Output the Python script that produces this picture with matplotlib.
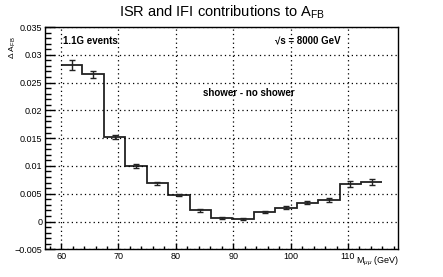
import numpy as np
import matplotlib
matplotlib.use("Agg")
import matplotlib.pyplot as plt
from matplotlib.ticker import MultipleLocator, FixedLocator

plt.rcParams['font.family'] = ['Liberation Sans', 'DejaVu Sans']
plt.rcParams['mathtext.fontset'] = 'custom'
plt.rcParams['mathtext.rm'] = 'Liberation Sans'
plt.rcParams['mathtext.it'] = 'Liberation Sans:italic'

# histogram: 15 bins from 60 to 116 GeV
bin_lo, bin_hi, n_bins = 60.0, 116.0, 15
delta_afb = [0.0282, 0.0265, 0.01525, 0.0100, 0.0069, 0.0048, 0.0020, 0.0006,
             0.0005, 0.0017, 0.0025, 0.0034, 0.0039, 0.0068, 0.0071]
delta_err = [0.00085, 0.0006, 0.00035, 0.0003, 0.00025, 0.0002, 0.0002, 0.0002,
             0.0002, 0.0002, 0.00025, 0.0003, 0.00035, 0.0005, 0.0005]
ytick_vals = [-0.005, 0, 0.005, 0.01, 0.015, 0.02, 0.025, 0.03, 0.035]
ytick_text = ['\u22120.005', '0', '0.005', '0.01', '0.015', '0.02', '0.025', '0.03', '0.035']

edges = np.linspace(bin_lo, bin_hi, n_bins + 1)
centers = 0.5 * (edges[:-1] + edges[1:])

fig = plt.figure(figsize=(4.43, 2.77), dpi=100)
ax = fig.add_axes([0.1016, 0.1, 0.7979, 0.8025])

# step line only, no drop to baseline at the ends
ax.stairs(delta_afb, edges, baseline=None, color='#222222', linewidth=1.3)
ax.errorbar(centers, delta_afb, yerr=delta_err, fmt='none', ecolor='#222222',
            elinewidth=1.0, capsize=2.5, capthick=1.0)

ax.set_xlim(57.2, 118.8)
ax.set_ylim(-0.005, 0.035)

ax.xaxis.set_major_locator(MultipleLocator(10))
ax.xaxis.set_minor_locator(MultipleLocator(2))
ax.yaxis.set_major_locator(FixedLocator(ytick_vals))
ax.yaxis.set_minor_locator(MultipleLocator(0.001))
ax.set_yticklabels(ytick_text)

ax.tick_params(which='both', direction='in', top=False, right=False,
               labelsize=6.5, width=1.0, colors='black')
ax.tick_params(axis='y', which='major', length=7.5, pad=2)
ax.tick_params(axis='y', which='minor', length=4)
ax.tick_params(axis='x', which='major', length=4.5, pad=2)
ax.tick_params(axis='x', which='minor', length=2.3)

ax.grid(True, which='major', color='black', linestyle=(0, (1, 2.5)), linewidth=0.9)
for sp in ax.spines.values():
    sp.set_linewidth(1.0)

fig.text(0.5, 0.955, r'ISR and IFI contributions to A$_{\rm FB}$', ha='center',
         va='center', fontsize=10.5)

ax.text(60.35, 0.0325, '1.1G events', fontsize=7, fontweight='bold', va='center')
ax.text(97.3, 0.0325, '\u221as = 8000 GeV', fontsize=7, fontweight='bold', va='center')
ax.text(84.8, 0.0232, 'shower - no shower', fontsize=7, fontweight='bold', va='center')

fig.text(0.03, 0.87, r'$\Delta$ A$_{\rm FB}$', rotation=90, ha='center', va='top',
         fontsize=6)
fig.text(0.8995, 0.055, r'M$_{\mu\mu}$ (GeV)', ha='right', va='center', fontsize=6.5)

fig.savefig('out.png', dpi=100)
